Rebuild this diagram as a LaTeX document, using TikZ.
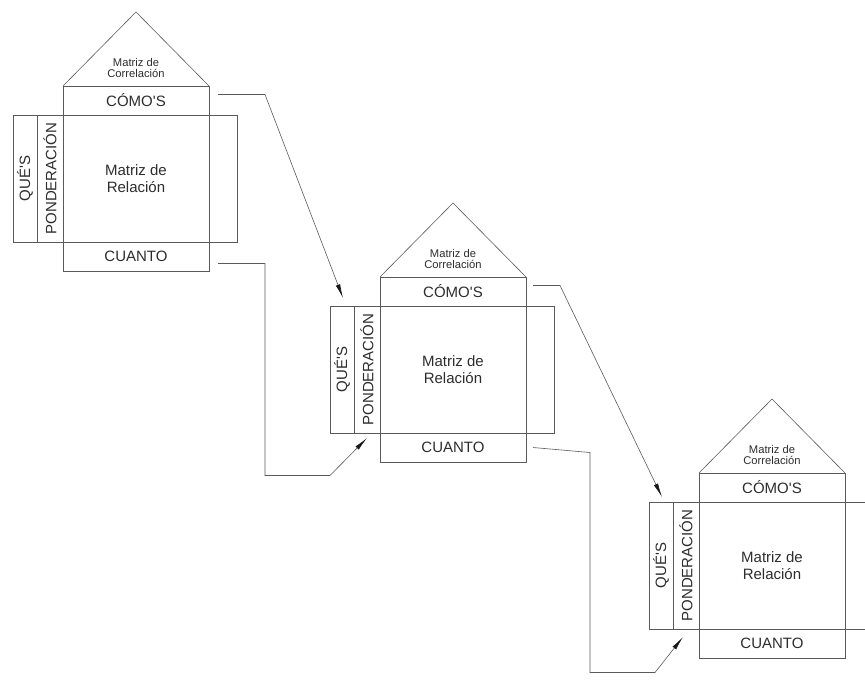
\documentclass[tikz,border=0pt]{standalone}
\usepackage{fontspec}
\setmainfont{Liberation Sans}
\usepackage{xcolor}
\usepackage{tikz}
\usetikzlibrary{calc,positioning,arrows.meta}
\definecolor{LineGrey}{RGB}{90,90,90}
\definecolor{TextGrey}{RGB}{45,45,45}
\definecolor{TipBlack}{RGB}{25,25,25}

\tikzset{
  cell/.style={draw=LineGrey, line width=0.6pt, inner sep=0pt, outer sep=0pt, text=TextGrey, align=center, font=\fontsize{15pt}{17pt}\selectfont},
  roofnote/.style={text=TextGrey, align=center, inner sep=0pt, font=\fontsize{11.2pt}{10.5pt}\selectfont},
  frame/.style={draw=LineGrey, line width=0.6pt},
  flow/.style={draw=LineGrey, line width=0.6pt, -{Latex[length=14pt,width=4.5pt,color=TipBlack]}}
}

\begin{document}
\begin{tikzpicture}[x=1pt, y=-1pt]
    \clip (0,0) rectangle (865,681);

    % House 1
    \node[cell, anchor=north west, minimum width=146pt, minimum height=29pt] (comos1) at (63,86) {CÓMO\textquotesingle S};
    \node[cell, below=0pt of comos1, minimum width=146pt, minimum height=127pt] (rel1) {Matriz de\\Relación};
    \node[cell, below=0pt of rel1, minimum width=146pt, minimum height=29pt] (cuanto1) {CUANTO};
    \node[cell, rotate=90, anchor=south, minimum width=127pt, minimum height=26pt] (pond1) at (rel1.west) {PONDERACIÓN};
    \node[cell, rotate=90, anchor=south, minimum width=127pt, minimum height=24pt] (ques1) at (pond1.north) {QUÉ\textquotesingle S};
    \draw[frame] (rel1.north east) rectangle ++(28,127);
    \draw[frame] (comos1.north west) -- ++(73,-74) -- (comos1.north east);
    \node[roofnote] (corr1) at ($(comos1.north)+(0,-18)$) {Matriz de\\Correlación};

    % House 2
    \node[cell, anchor=north west, minimum width=146pt, minimum height=29pt] (comos2) at (380,277) {CÓMO\textquotesingle S};
    \node[cell, below=0pt of comos2, minimum width=146pt, minimum height=127pt] (rel2) {Matriz de\\Relación};
    \node[cell, below=0pt of rel2, minimum width=146pt, minimum height=29pt] (cuanto2) {CUANTO};
    \node[cell, rotate=90, anchor=south, minimum width=127pt, minimum height=26pt] (pond2) at (rel2.west) {PONDERACIÓN};
    \node[cell, rotate=90, anchor=south, minimum width=127pt, minimum height=24pt] (ques2) at (pond2.north) {QUÉ\textquotesingle S};
    \draw[frame] (rel2.north east) rectangle ++(28,127);
    \draw[frame] (comos2.north west) -- ++(73,-74) -- (comos2.north east);
    \node[roofnote] (corr2) at ($(comos2.north)+(0,-18)$) {Matriz de\\Correlación};

    % House 3
    \node[cell, anchor=north west, minimum width=146pt, minimum height=29pt] (comos3) at (699,473) {CÓMO\textquotesingle S};
    \node[cell, below=0pt of comos3, minimum width=146pt, minimum height=127pt] (rel3) {Matriz de\\Relación};
    \node[cell, below=0pt of rel3, minimum width=146pt, minimum height=29pt] (cuanto3) {CUANTO};
    \node[cell, rotate=90, anchor=south, minimum width=127pt, minimum height=26pt] (pond3) at (rel3.west) {PONDERACIÓN};
    \node[cell, rotate=90, anchor=south, minimum width=127pt, minimum height=24pt] (ques3) at (pond3.north) {QUÉ\textquotesingle S};
    \draw[frame] (rel3.north east) rectangle ++(28,127);
    \draw[frame] (comos3.north west) -- ++(73,-74) -- (comos3.north east);
    \node[roofnote] (corr3) at ($(comos3.north)+(0,-18)$) {Matriz de\\Correlación};

    % Links between the houses
    \draw[flow] ($(comos1.east)+(9,-6)$) -- ++(47,0) -- ($(ques2.east)+(1,-8)$);
    \draw[flow] ($(cuanto1.east)+(9,7)$) -- ++(47,0) -- ++(0,212) -- ++(65,0) -- ($(pond2.west)+(0,5)$);
    \draw[flow] ($(comos2.east)+(7,-6)$) -- ++(27,0) -- ($(ques3.east)+(1,-5)$);
    \draw[flow] ($(cuanto2.east)+(7,0)$) -- ++(57,5) -- ++(0,220) -- ++(65,0) -- ($(pond3.west)+(-3,8)$);
\end{tikzpicture}
\end{document}
